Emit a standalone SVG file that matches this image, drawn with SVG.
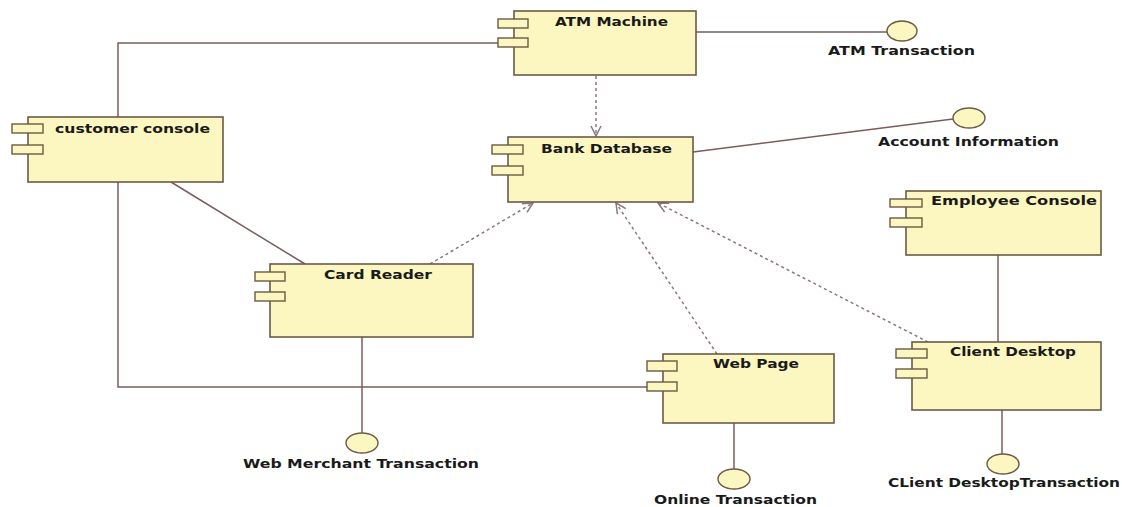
<svg xmlns="http://www.w3.org/2000/svg" width="1122" height="507" viewBox="0 0 1122 507">
<defs>
<style>
.box{fill:#fcf7c0;stroke:#6b5a45;stroke-width:1.6}
.port{fill:#fcf7c0;stroke:#6b5a45;stroke-width:1.4}
.t{font-family:"DejaVu Sans","Liberation Sans",sans-serif;font-weight:bold;font-size:12px;fill:#1a1a1a}
.ln{fill:none;stroke:#7a5c5c;stroke-width:1.5}
.dep{fill:none;stroke:#8c7878;stroke-width:1.5;stroke-dasharray:3 3}
.ball{fill:#fcf7c0;stroke:#6b5a45;stroke-width:1.4}
</style>
<marker id="open" viewBox="0 0 12 12" refX="11" refY="6" markerWidth="12" markerHeight="12" markerUnits="userSpaceOnUse" orient="auto">
<path d="M1,1 L11,6 L1,11" fill="none" stroke="#8c7878" stroke-width="1.5"/>
</marker>
</defs>
<rect width="1122" height="507" fill="#ffffff"/>
<g id="connectors">
<polyline class="ln" points="498,43 118,43 118,117"/>
<polyline class="ln" points="118,182 118,387 647,387"/>
<line class="ln" x1="171" y1="182" x2="305" y2="264"/>
<line class="ln" x1="696" y1="32" x2="887" y2="32"/>
<line class="ln" x1="693" y1="152" x2="953" y2="119"/>
<line class="ln" x1="362" y1="337" x2="362" y2="433"/>
<line class="ln" x1="734" y1="423" x2="734" y2="469"/>
<line class="ln" x1="1002" y1="410" x2="1002" y2="454"/>
<line class="ln" x1="998" y1="255" x2="998" y2="342"/>
<line class="dep" x1="596" y1="76" x2="596" y2="136" marker-end="url(#open)"/>
<line class="dep" x1="430" y1="264" x2="533" y2="203" marker-end="url(#open)"/>
<line class="dep" x1="717" y1="354" x2="616" y2="203" marker-end="url(#open)"/>
<line class="dep" x1="928" y1="342" x2="658" y2="203" marker-end="url(#open)"/>
</g>
<g id="atm-machine">
<rect class="box" x="514" y="11" width="182" height="64"/>
<rect class="port" x="498" y="19" width="30" height="9"/>
<rect class="port" x="498" y="38" width="30" height="9"/>
<text class="t" x="555" y="26" textLength="113" lengthAdjust="spacingAndGlyphs">ATM Machine</text>
</g>
<g id="bank-database">
<rect class="box" x="508" y="137" width="185" height="65"/>
<rect class="port" x="492" y="145" width="31" height="9"/>
<rect class="port" x="492" y="166" width="31" height="9"/>
<text class="t" x="541" y="153" textLength="131" lengthAdjust="spacingAndGlyphs">Bank Database</text>
</g>
<g id="customer-console">
<rect class="box" x="28" y="117" width="195" height="65"/>
<rect class="port" x="12" y="124" width="31" height="9"/>
<rect class="port" x="12" y="145" width="31" height="9"/>
<text class="t" x="55" y="133" textLength="155" lengthAdjust="spacingAndGlyphs">customer console</text>
</g>
<g id="card-reader">
<rect class="box" x="270" y="264" width="203" height="73"/>
<rect class="port" x="255" y="272" width="30" height="9"/>
<rect class="port" x="255" y="292" width="30" height="9"/>
<text class="t" x="324" y="279" textLength="108" lengthAdjust="spacingAndGlyphs">Card Reader</text>
</g>
<g id="web-page">
<rect class="box" x="663" y="354" width="171" height="69"/>
<rect class="port" x="647" y="361" width="30" height="10"/>
<rect class="port" x="647" y="382" width="30" height="9"/>
<text class="t" x="713" y="368" textLength="86" lengthAdjust="spacingAndGlyphs">Web Page</text>
</g>
<g id="employee-console">
<rect class="box" x="906" y="191" width="195" height="64"/>
<rect class="port" x="890" y="199" width="32" height="8"/>
<rect class="port" x="890" y="218" width="32" height="9"/>
<text class="t" x="931" y="205" textLength="166" lengthAdjust="spacingAndGlyphs">Employee Console</text>
</g>
<g id="client-desktop">
<rect class="box" x="912" y="342" width="189" height="68"/>
<rect class="port" x="896" y="349" width="31" height="9"/>
<rect class="port" x="896" y="369" width="31" height="9"/>
<text class="t" x="950" y="356" textLength="126" lengthAdjust="spacingAndGlyphs">Client Desktop</text>
</g>
<g id="atm-transaction">
<ellipse class="ball" cx="902" cy="31" rx="15" ry="10"/>
<text class="t" x="828" y="55" textLength="147" lengthAdjust="spacingAndGlyphs">ATM Transaction</text>
</g>
<g id="account-information">
<ellipse class="ball" cx="969" cy="118" rx="16" ry="10"/>
<text class="t" x="878" y="146" textLength="181" lengthAdjust="spacingAndGlyphs">Account Information</text>
</g>
<g id="web-merchant-transaction">
<ellipse class="ball" cx="362" cy="443" rx="16" ry="10"/>
<text class="t" x="243" y="468" textLength="236" lengthAdjust="spacingAndGlyphs">Web Merchant Transaction</text>
</g>
<g id="online-transaction">
<ellipse class="ball" cx="734" cy="479" rx="16" ry="10"/>
<text class="t" x="654" y="504" textLength="163" lengthAdjust="spacingAndGlyphs">Online Transaction</text>
</g>
<g id="client-desktop-transaction">
<ellipse class="ball" cx="1003" cy="464" rx="16" ry="10"/>
<text class="t" x="888" y="487" textLength="232" lengthAdjust="spacingAndGlyphs">CLient DesktopTransaction</text>
</g>
</svg>
